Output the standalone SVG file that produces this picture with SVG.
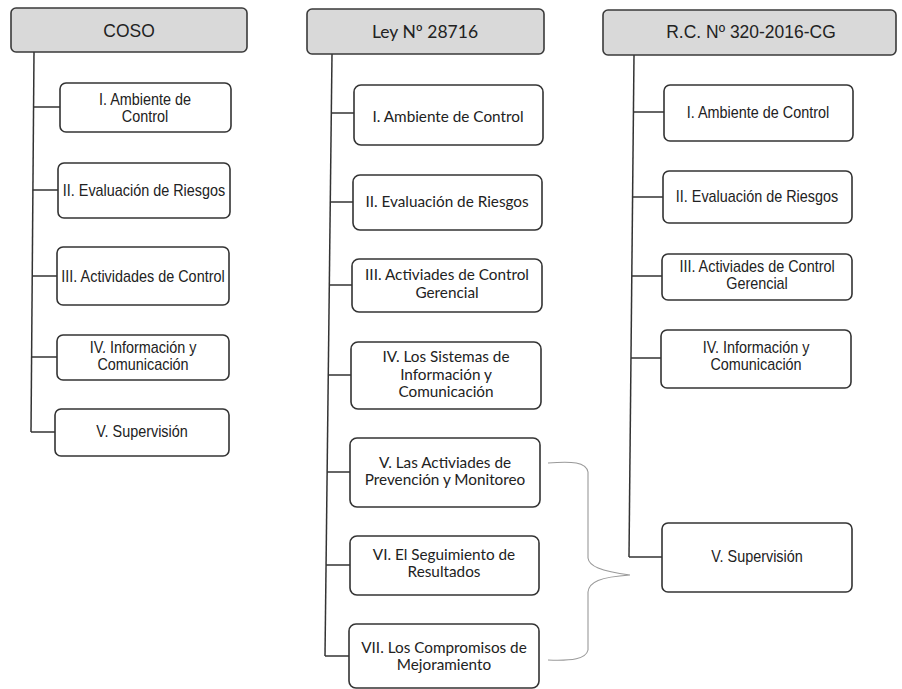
<svg xmlns="http://www.w3.org/2000/svg" width="902" height="689" viewBox="0 0 902 689">
<style>
.hdr{fill:#d9d9d9;stroke:#3a3a3a;stroke-width:1.6}
.box{fill:#ffffff;stroke:#333333;stroke-width:1.6}
.ln{fill:none;stroke:#333333;stroke-width:1.5}
.br{fill:none;stroke:#9a9a9a;stroke-width:1.1}
.n{font-family:"Liberation Sans",Arial,sans-serif;font-size:16px;fill:#222;text-anchor:middle}
.nh{font-family:"Liberation Sans",Arial,sans-serif;font-size:19px;fill:#222;text-anchor:middle}
.c{font-family:Lato,"Open Sans",sans-serif;font-size:15.3px;fill:#222;text-anchor:middle}
.ch{font-family:Lato,"Open Sans",sans-serif;font-size:17.5px;fill:#222;text-anchor:middle}
</style>
<rect width="902" height="689" fill="#ffffff"/>
<g id="connectors">
<polyline class="ln" points="34,52 31,432"/>
<line class="ln" x1="33.6" y1="107" x2="60" y2="107"/>
<line class="ln" x1="32.9" y1="190" x2="58" y2="190"/>
<line class="ln" x1="32.2" y1="276" x2="57" y2="276"/>
<line class="ln" x1="31.6" y1="357" x2="57" y2="357"/>
<line class="ln" x1="31" y1="432" x2="55" y2="432"/>
<polyline class="ln" points="332,54 325,656"/>
<line class="ln" x1="331.3" y1="113" x2="354" y2="113"/>
<line class="ln" x1="330.3" y1="202" x2="353" y2="202"/>
<line class="ln" x1="329.3" y1="285" x2="352" y2="285"/>
<line class="ln" x1="328.3" y1="375" x2="351" y2="375"/>
<line class="ln" x1="327.1" y1="472" x2="350" y2="472"/>
<line class="ln" x1="326.1" y1="565" x2="350" y2="565"/>
<line class="ln" x1="325" y1="656" x2="349" y2="656"/>
<polyline class="ln" points="634,55 629,557"/>
<line class="ln" x1="633.4" y1="112" x2="664" y2="112"/>
<line class="ln" x1="632.6" y1="197" x2="663" y2="197"/>
<line class="ln" x1="631.8" y1="276" x2="662" y2="276"/>
<line class="ln" x1="631" y1="358" x2="661" y2="358"/>
<line class="ln" x1="629" y1="557" x2="662" y2="557"/>
<path class="br" d="M548,463 C572,461 586,462 588,472 L588,558 C589,566 600,571 630,575 C600,577 589,582 588,592 L588,650 C586,659 572,661 548,660"/>
</g>
<g id="coso">
<rect class="hdr" x="11" y="8" width="236" height="44" rx="5"/>
<text class="nh" transform="translate(129,37) scale(0.92,1)">COSO</text>
</g>
<g id="coso-1"><rect class="box" x="60" y="83" width="171" height="49" rx="6"/><text class="n" transform="translate(145,105) scale(0.9,1)">I. Ambiente de</text><text class="n" transform="translate(145,122) scale(0.9,1)">Control</text></g>
<g id="coso-2"><rect class="box" x="58" y="163" width="172" height="55" rx="6"/><text class="n" transform="translate(144,196) scale(0.9,1)">II. Evaluación de Riesgos</text></g>
<g id="coso-3"><rect class="box" x="57" y="247" width="172" height="58" rx="6"/><text class="n" transform="translate(143,282) scale(0.9,1)">III. Actividades de Control</text></g>
<g id="coso-4"><rect class="box" x="57" y="335" width="172" height="45" rx="6"/><text class="n" transform="translate(143,353) scale(0.9,1)">IV. Información y</text><text class="n" transform="translate(143,370) scale(0.9,1)">Comunicación</text></g>
<g id="coso-5"><rect class="box" x="55" y="409" width="174" height="47" rx="6"/><text class="n" transform="translate(142,437) scale(0.9,1)">V. Supervisión</text></g>

<g id="ley">
<rect class="hdr" x="307" y="9" width="237" height="45" rx="5"/>
<text class="ch" x="425" y="38">Ley Nº 28716</text>
</g>
<g id="ley-1"><rect class="box" x="354" y="85" width="189" height="60" rx="7"/><text class="c" x="448" y="122">I. Ambiente de Control</text></g>
<g id="ley-2"><rect class="box" x="353" y="175" width="189" height="55" rx="7"/><text class="c" x="447" y="207">II. Evaluación de Riesgos</text></g>
<g id="ley-3"><rect class="box" x="352" y="259" width="190" height="53" rx="7"/><text class="c" x="447" y="280">III. Activiades de Control</text><text class="c" x="447" y="298">Gerencial</text></g>
<g id="ley-4"><rect class="box" x="351" y="342" width="190" height="67" rx="7"/><text class="c" x="446" y="362">IV. Los Sistemas de</text><text class="c" x="446" y="380">Información y</text><text class="c" x="446" y="397">Comunicación</text></g>
<g id="ley-5"><rect class="box" x="350" y="438" width="190" height="69" rx="7"/><text class="c" x="445" y="468">V. Las Activiades de</text><text class="c" x="445" y="485">Prevención y Monitoreo</text></g>
<g id="ley-6"><rect class="box" x="350" y="536" width="189" height="59" rx="7"/><text class="c" x="444" y="560">VI. El Seguimiento de</text><text class="c" x="444" y="577">Resultados</text></g>
<g id="ley-7"><rect class="box" x="349" y="624" width="190" height="64" rx="7"/><text class="c" x="444" y="653">VII. Los Compromisos de</text><text class="c" x="444" y="670">Mejoramiento</text></g>

<g id="rc">
<rect class="hdr" x="603" y="10" width="293" height="45" rx="5"/>
<text class="nh" transform="translate(751,38) scale(0.92,1)">R.C. Nº 320-2016-CG</text>
</g>
<g id="rc-1"><rect class="box" x="664" y="85" width="189" height="56" rx="6"/><text class="n" transform="translate(758,118) scale(0.9,1)">I. Ambiente de Control</text></g>
<g id="rc-2"><rect class="box" x="663" y="171" width="189" height="52" rx="6"/><text class="n" transform="translate(757,202) scale(0.9,1)">II. Evaluación de Riesgos</text></g>
<g id="rc-3"><rect class="box" x="662" y="254" width="190" height="46" rx="6"/><text class="n" transform="translate(757,272) scale(0.9,1)">III. Activiades de Control</text><text class="n" transform="translate(757,289) scale(0.9,1)">Gerencial</text></g>
<g id="rc-4"><rect class="box" x="661" y="330" width="190" height="58" rx="6"/><text class="n" transform="translate(756,353) scale(0.9,1)">IV. Información y</text><text class="n" transform="translate(756,370) scale(0.9,1)">Comunicación</text></g>
<g id="rc-5"><rect class="box" x="662" y="523" width="190" height="69" rx="6"/><text class="n" transform="translate(757,562) scale(0.9,1)">V. Supervisión</text></g>
</svg>
